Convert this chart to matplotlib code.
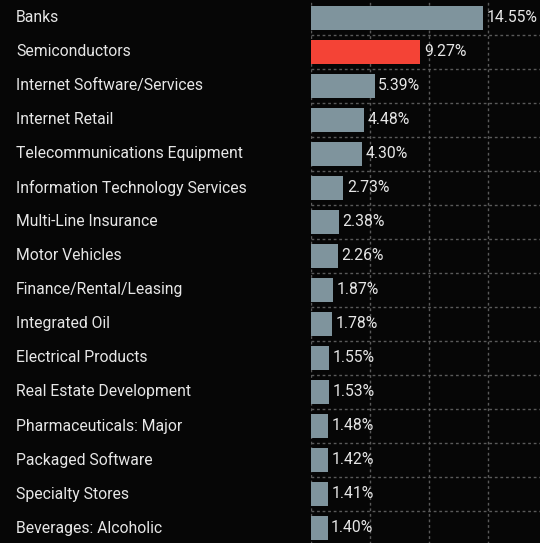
import numpy as np
from matplotlib import pyplot as plt
from matplotlib import transforms

categories = ['Banks', 'Semiconductors', 'Internet Software/Services', 'Internet Retail',
              'Telecommunications Equipment', 'Information Technology Services',
              'Multi-Line Insurance', 'Motor Vehicles', 'Finance/Rental/Leasing',
              'Integrated Oil', 'Electrical Products', 'Real Estate Development',
              'Pharmaceuticals: Major', 'Packaged Software', 'Specialty Stores',
              'Beverages: Alcoholic']
weights = [14.55, 9.27, 5.39, 4.48, 4.30, 2.73, 2.38, 2.26, 1.87, 1.78,
           1.55, 1.53, 1.48, 1.42, 1.41, 1.40]
highlight = 'Semiconductors'

bg = '#060606'
text_col = '#e6e6e6'
fs = 11.3

fig = plt.figure(figsize=(5.4, 5.43), dpi=100, facecolor=bg)
ax1 = fig.add_axes([311 / 540, -2 / 543, 1 - 311 / 540, 544 / 543], facecolor=bg)

y = np.arange(len(categories))
colors = ['#f44336' if c == highlight else '#7f949d' for c in categories]
ax1.barh(y, weights, height=0.7, color=colors, zorder=2)

for yi, w in zip(y, weights):
    ax1.text(w + 0.3, yi, f"{w:.2f}%", va='center', ha='left',
             color=text_col, fontsize=fs, family='Roboto')

# category labels sit in figure space on the left
label_tr = transforms.blended_transform_factory(fig.transFigure, ax1.transData)
for yi, c in zip(y, categories):
    ax1.text(16 / 540, yi, c, transform=label_tr, va='center', ha='left',
             color=text_col, fontsize=fs, family='Roboto')

ax1.set_xlim(0, 19.4)
ax1.set_ylim(len(categories) - 0.5, -0.5)
ax1.set_xticks([0, 5, 10, 15])
ax1.set_yticks(y[:-1] + 0.5)
ax1.tick_params(length=0, labelbottom=False, labelleft=False)
ax1.grid(True, color='#5a5a5a', linestyle=(0, (2, 2)), linewidth=1, zorder=0)
ax1.set_axisbelow(True)
for s in ax1.spines.values():
    s.set_visible(False)

plt.savefig("out.png", dpi=100, facecolor=bg)
plt.close()
